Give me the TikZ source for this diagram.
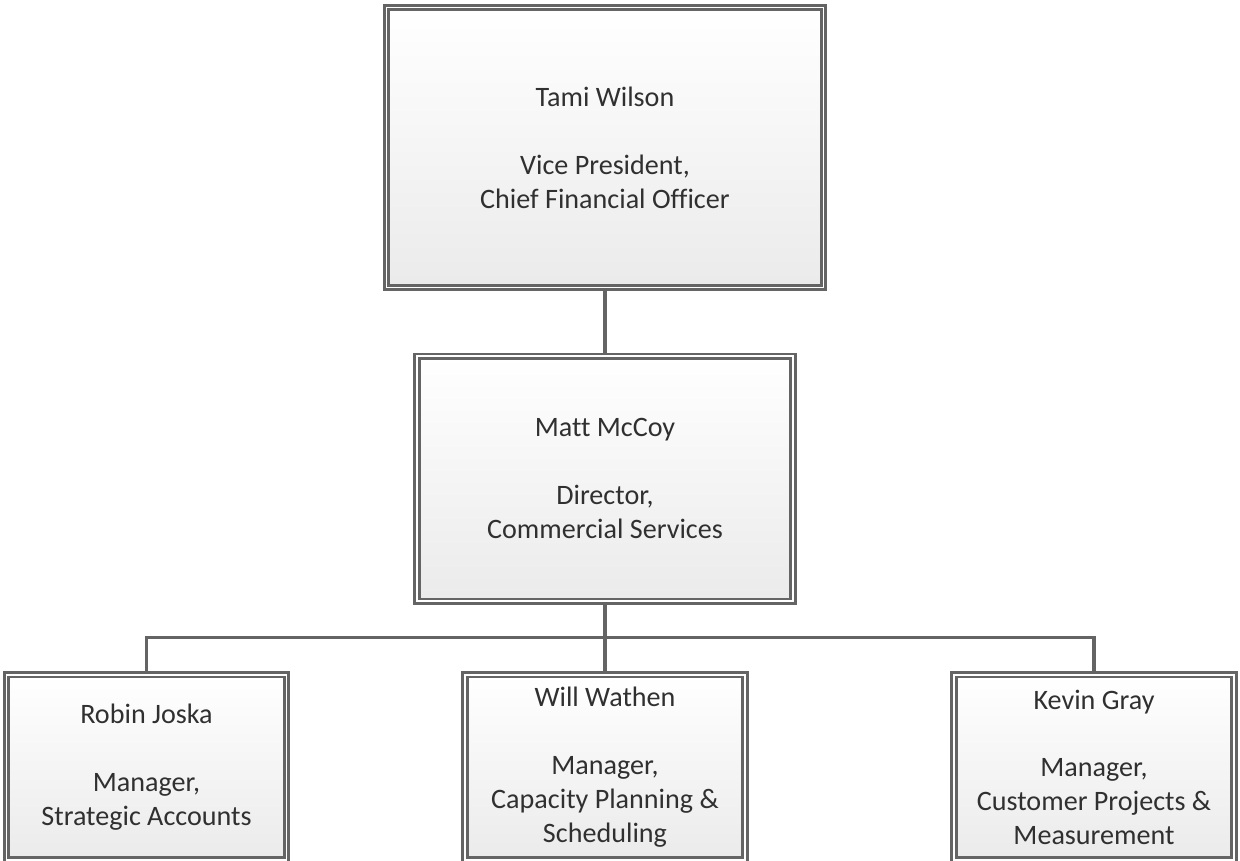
\documentclass[tikz,border=0pt]{standalone}
\usepackage{fontspec}
\setmainfont[Ligatures=NoCommon]{Carlito}
\usepackage{tikz}
\usepackage{xcolor}
\usetikzlibrary{positioning,shadows}
\definecolor{boxline}{RGB}{100,100,100}
\definecolor{boxtext}{RGB}{48,48,48}
\tikzset{
  person/.style={ % image of one person's box
    rectangle, draw=boxline, line width=1.5pt,
    double=white, double distance=1.1pt,
    top color=white, bottom color=black!8,
    drop shadow={shadow xshift=1.4pt, shadow yshift=-1.4pt, opacity=0.3},
    inner sep=0pt, align=center, text=boxtext,
    font=\fontsize{16pt}{19.3pt}\selectfont
  },
  big/.style={person, minimum width=8.74cm, minimum height=5.6cm},
  mid/.style={person, minimum width=7.52cm, minimum height=4.9cm},
  small/.style={person, minimum width=5.6cm, minimum height=3.7cm},
  link/.style={ % image of a reporting line
    draw=boxline, line width=1.8pt
  }
}
\begin{document}
\begin{tikzpicture}
  \useasboundingbox (0,0) rectangle (24.8,-17.2);

  \node[big] (tami) at (12.1,-2.95)
    {Tami Wilson\\[19.3pt]Vice President,\\Chief Financial Officer};
  \node[mid,below=1.32cm of tami] (matt)
    {Matt McCoy\\[19.3pt]Director,\\Commercial Services};
  \node[small,below=1.42cm of matt,xshift=-9.17cm] (robin)
    {Robin Joska\\[19.3pt]Manager,\\Strategic Accounts};
  \node[small,below=1.42cm of matt] (will)
    {Will Wathen\\[19.3pt]Manager,\\Capacity Planning \&\\Scheduling};
  \node[small,below=1.42cm of matt,xshift=9.78cm] (kevin)
    {Kevin Gray\\[19.3pt]Manager,\\Customer Projects \&\\Measurement};

  \draw[link] (tami) -- (matt);
  \draw[link] (matt.south) -- ++(0,-0.7) coordinate (bus);
  \draw[link] (bus) -| (robin.north);
  \draw[link] (bus) -| (kevin.north);
  \draw[link] (bus) -- (will.north);
\end{tikzpicture}
\end{document}
